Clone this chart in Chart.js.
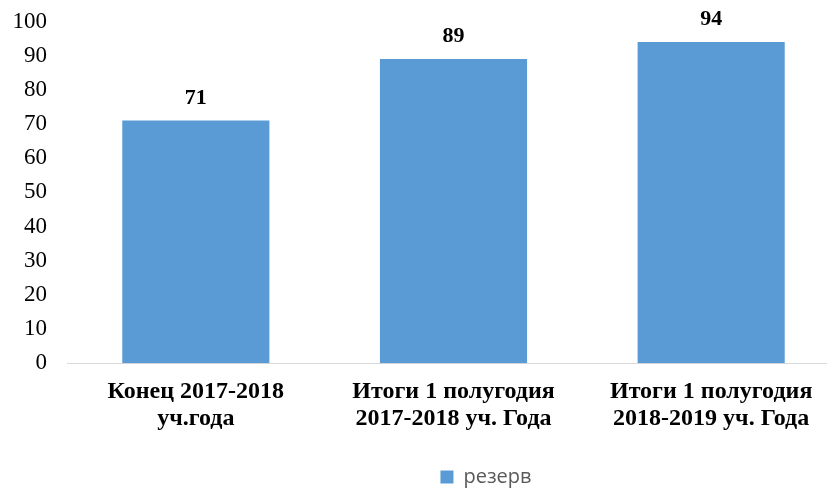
<!DOCTYPE html>
<html>
<head>
<meta charset="utf-8">
<script src="https://cdn.jsdelivr.net/npm/chart.js@4"></script>
<style>
  html, body { margin: 0; padding: 0; background: #fff; overflow: hidden; }
  #wrap { width: 850px; height: 497px; position: relative; }
</style>
</head>
<body>
<div id="wrap"><canvas id="reserveChart"></canvas></div>
<script>
// Chart data
const categories = [
  ["Конец 2017-2018", "уч.года"],
  ["Итоги 1 полугодия", "2017-2018 уч. Года"],
  ["Итоги 1 полугодия", "2018-2019 уч. Года"]
];
const seriesName = "резерв";
const reserveValues = [71, 89, 94];
const yMin = 0;
const yMax = 100;
const yStep = 10;

const SERIF = "'Times New Roman', 'Liberation Serif', serif";
const BAR_BLUE = "#5B9BD5";

// Bold value labels above each bar
const valueLabels = {
  id: "valueLabels",
  afterDatasetsDraw(chart) {
    const ctx = chart.ctx;
    const meta = chart.getDatasetMeta(0);
    ctx.save();
    ctx.font = "bold 22px " + SERIF;
    ctx.fillStyle = "#000";
    ctx.textAlign = "center";
    ctx.textBaseline = "alphabetic";
    meta.data.forEach((bar, i) => {
      ctx.fillText(String(reserveValues[i]), bar.x, bar.y - 17);
    });
    ctx.restore();
  }
};

// The legend sits right of the plot centre in the original
const legendShift = {
  id: "legendShift",
  afterLayout(chart) {
    if (!chart.legend) return;
    chart.legend.left += 60;
    chart.legend.right += 60;
  }
};

const ctx = document.getElementById("reserveChart").getContext("2d");
new Chart(ctx, {
  type: "bar",
  data: {
    labels: categories,
    datasets: [{
      label: seriesName,
      data: reserveValues,
      backgroundColor: BAR_BLUE,
      borderWidth: 0,
      categoryPercentage: 1,
      barPercentage: 0.571
    }]
  },
  options: {
    responsive: true,
    maintainAspectRatio: false,
    animation: false,
    layout: { padding: { left: 12, right: 10, top: 21.5, bottom: 0 } },
    scales: {
      x: {
        grid: { display: false, drawTicks: false },
        border: { display: true, color: "#d9d9d9", width: 1 },
        ticks: {
          color: "#000",
          padding: 15,
          maxRotation: 0,
          autoSkip: false,
          font: { family: SERIF, size: 24, weight: "bold", lineHeight: 1.12 }
        },
        afterFit(scale) { scale.height += 16; }
      },
      y: {
        min: yMin,
        max: yMax,
        grid: { display: false, drawTicks: false },
        border: { display: false },
        ticks: {
          stepSize: yStep,
          color: "#000",
          padding: 20,
          font: { family: SERIF, size: 23, lineHeight: 1 }
        },
        afterFit(scale) {
          scale.width = 55;
          scale.paddingTop = 0;
          scale.paddingBottom = 0;
        }
      }
    },
    plugins: {
      legend: {
        position: "bottom",
        labels: {
          boxWidth: 13,
          boxHeight: 13,
          padding: 4,
          color: "#595959",
          font: { family: "'Open Sans', sans-serif", size: 20 }
        }
      },
      tooltip: { enabled: false }
    }
  },
  plugins: [valueLabels, legendShift]
});
</script>
</body>
</html>
